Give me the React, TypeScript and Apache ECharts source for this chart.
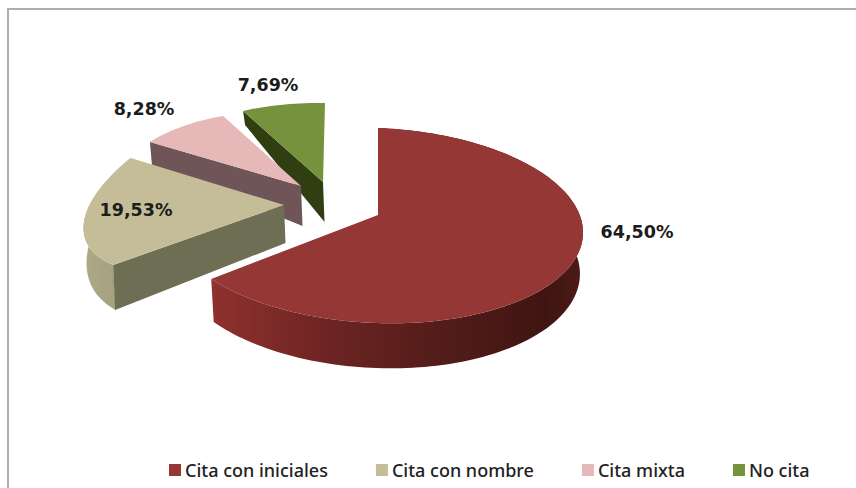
import React, { useEffect, useRef } from "react";
import * as echarts from "echarts";

const categories = ["Cita con iniciales", "Cita con nombre", "Cita mixta", "No cita"];
const shares = [64.5, 19.53, 8.28, 7.69];
const topColors = ["#953735", "#c4bd97", "#e6b9b8", "#76923c"];
const faceColors = ["#5a1f1d", "#6e6e54", "#6f5558", "#2f3f12"];

// Perspective frame of each exploded wedge on the page
const frames = [
  { c: [376, 225.5], a: [207, 8], b: [2, -97.5], apex: [378, 215], wall: { d0: 45, k: 0.042, y0: 323 }, face: null, z: 4, label: [637, 232] },
  { c: [292, 167], a: [207, -50], b: [25, -95.4], apex: [284, 205], wall: { d0: 45, k: 0.27, y0: 265 }, face: [38, 45], z: 3, label: [136, 210] },
  { c: [305.3, 199.9], a: [188, 12.5], b: [5.9, -88.3], apex: [301, 186], wall: null, face: [40, 23], z: 2, label: [144, 109] },
  { c: [323.6, 185.4], a: [176, 3.1], b: [1.4, -82.4], apex: [323, 182], wall: null, face: [40, 14], z: 1, label: [268, 85] },
];
const wallStops = [
  [[0, "#8f312e"], [0.3, "#6e2523"], [0.55, "#581e1b"], [0.9, "#3f1512"], [1, "#4e1b17"]],
  [[0, "#aeaa88"], [1, "#a09b79"]],
];

const total = shares.reduce((s, v) => s + v, 0);
const startAngles = shares.map((_, i) => (shares.slice(0, i).reduce((s, v) => s + v, 0) / total) * Math.PI * 2);

function arcPoints(i: number, value: number) {
  const f = frames[i];
  const from = startAngles[i];
  const sweep = (value / total) * Math.PI * 2;
  const n = Math.max(6, Math.ceil(sweep / 0.03));
  const pts: number[][] = [];
  for (let k = 0; k <= n; k++) {
    const t = from + (sweep * k) / n;
    const s = Math.sin(t);
    const co = Math.cos(t);
    pts.push([f.c[0] + f.a[0] * s + f.b[0] * co, f.c[1] + f.a[1] * s + f.b[1] * co]);
  }
  return pts;
}

function renderSlice(i: number) {
  return (_params: any, api: any) => {
    const value = api.value(0);
    const f = frames[i];
    const arc = arcPoints(i, value);
    const children: any[] = [];
    const shrink = 0.015;
    if (f.wall) {
      const w = f.wall;
      const lower = arc.map(([x, y]) => [x + (f.apex[0] - x) * shrink, y + w.d0 + w.k * (y - w.y0)]);
      const xs = arc.map((p) => p[0]);
      const x0 = Math.min(...xs);
      const x1 = Math.max(...xs);
      children.push({
        type: "polygon",
        shape: { points: [...arc, ...lower.reverse()] },
        style: {
          fill: {
            type: "linear",
            global: true,
            x: x0,
            y: 0,
            x2: x1,
            y2: 0,
            colorStops: wallStops[i].map(([offset, color]) => ({ offset, color })),
          },
        },
      });
    }
    if (f.face) {
      const [apexDepth, cornerDepth] = f.face;
      const corner = arc[0];
      children.push({
        type: "polygon",
        shape: {
          points: [
            corner,
            f.apex,
            [f.apex[0] + 1.5, f.apex[1] + apexDepth],
            [corner[0] + 2, corner[1] + cornerDepth],
          ],
        },
        style: { fill: faceColors[i] },
      });
    }
    children.push({
      type: "polygon",
      shape: { points: [f.apex, ...arc] },
      style: { fill: topColors[i] },
    });
    children.push({
      type: "text",
      x: f.label[0],
      y: f.label[1],
      z2: 10,
      style: {
        text: value.toFixed(2).replace(".", ",") + "%",
        align: "center",
        verticalAlign: "middle",
        fontFamily: "DejaVu Sans",
        fontWeight: "bold",
        fontSize: 17.5,
        fill: "#1c1c1c",
      },
    });
    return { type: "group", children };
  };
}

export default function App() {
  const ref = useRef<HTMLDivElement>(null);
  useEffect(() => {
    document.body.style.margin = "0";
    const chart = echarts.init(ref.current!, null, { renderer: "svg" });
    chart.setOption({
      animation: false,
      backgroundColor: "#ffffff",
      legend: {
        data: categories,
        left: 164,
        top: 456,
        icon: "rect",
        itemWidth: 12,
        itemHeight: 12,
        itemGap: 48,
        textStyle: { fontFamily: "Noto Sans", fontSize: 18, color: "#222222", fontWeight: 500, padding: [0, 0, 0, -1] },
      },
      graphic: [
        { type: "rect", shape: { x: 7, y: 8, width: 849, height: 2 }, style: { fill: "#adadad" } },
        { type: "rect", shape: { x: 7, y: 8, width: 2, height: 480 }, style: { fill: "#adadad" } },
      ],
      series: categories.map((name, i) => ({
        type: "custom",
        name,
        coordinateSystem: "none",
        z: frames[i].z,
        silent: true,
        itemStyle: { color: topColors[i] },
        data: [[shares[i]]],
        encode: { value: 0 },
        renderItem: renderSlice(i),
      })),
    });
    return () => chart.dispose();
  }, []);
  return <div ref={ref} style={{ width: 856, height: 488 }} />;
}
